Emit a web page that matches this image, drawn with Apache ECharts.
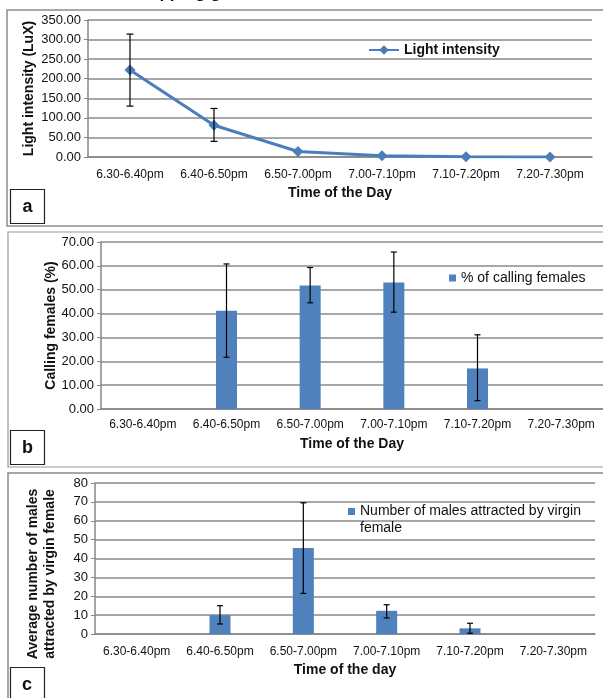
<!DOCTYPE html>
<html><head><meta charset="utf-8">
<script src="https://cdn.jsdelivr.net/npm/echarts@6/dist/echarts.min.js"></script>
<style>html,body{margin:0;padding:0;background:#fff;overflow:hidden}#chart{width:603px;height:698px}</style>
</head><body><div id="chart"></div>
<script>
// ---- data ----
const categories = ['6.30-6.40pm', '6.40-6.50pm', '6.50-7.00pm', '7.00-7.10pm', '7.10-7.20pm', '7.20-7.30pm'];

const lightIntensity = [222, 81, 14, 3, 0.5, 0.3];
const lightErrLow = [130, 40, null, null, null, null];
const lightErrHigh = [314, 124, null, null, null, null];

const callingFemales = [0, 41.2, 51.8, 53.0, 17.0, 0];
const callingErrLow = [null, 21.7, 44.5, 40.6, 3.5, null];
const callingErrHigh = [null, 60.8, 59.3, 65.8, 31.1, null];

const malesAttracted = [0, 10.0, 45.5, 12.3, 3.0, 0];
const malesErrLow = [null, 5.3, 21.5, 8.5, 0.4, null];
const malesErrHigh = [null, 15.0, 69.5, 15.5, 5.7, null];

const seriesNames = ['Light intensity', '% of calling females', 'Number of males attracted by virgin female'];
const axisNames = {
  x: ['Time of the Day', 'Time of the Day', 'Time of the day'],
  y: ['Light intensity (LuX)', 'Calling females (%)', 'Average number of males\nattracted by virgin female']
};
const yRanges = [[0, 350, 50], [0, 70, 10], [0, 80, 10]];
const panelLetters = ['a', 'b', 'c'];

// ---- styling ----
const FONT = '"Liberation Sans", Arial, sans-serif';
const BLUE = '#4a7ebb';
const BAR = '#4f81bd';
const GRID_LINE = '#8a8a8a';

const chart = echarts.init(document.getElementById('chart'), null, {renderer: 'canvas'});

const grids = [
  {left: 88, top: 20, width: 504, height: 137},
  {left: 101, top: 242, width: 504, height: 167},
  {left: 95, top: 483, width: 500, height: 151}
];

const xNameGap = [29, 28, 29];
const xLabelMargin = [12, 10, 12];
const yNameGap = [52, 43, 0];
const yDecimals = [2, 2, 0];

const xAxes = grids.map((g, i) => ({
  type: 'category', gridIndex: i, data: categories, boundaryGap: true,
  axisLine: {show: true, lineStyle: {color: '#868686', width: 1.5}},
  axisTick: {show: false},
  axisLabel: {color: '#111', fontSize: 12, fontFamily: FONT, margin: xLabelMargin[i], interval: 0},
  name: axisNames.x[i], nameLocation: 'middle', nameGap: xNameGap[i], nameMoveOverlap: false,
  nameTextStyle: {color: '#111', fontSize: 14, fontWeight: 'bold', fontFamily: FONT}
}));

const yAxes = grids.map((g, i) => ({
  type: 'value', gridIndex: i, min: yRanges[i][0], max: yRanges[i][1], interval: yRanges[i][2],
  axisLine: {show: true, lineStyle: {color: '#868686', width: 1.5}},
  axisTick: {show: true, length: 4, lineStyle: {color: '#868686'}},
  axisLabel: {color: '#111', fontSize: 13, fontFamily: FONT, margin: 7,
    formatter: v => v.toFixed(yDecimals[i])},
  splitLine: {show: true, lineStyle: {color: GRID_LINE, width: 1.5}},
  name: i < 2 ? axisNames.y[i] : '', nameLocation: 'middle', nameGap: yNameGap[i], nameMoveOverlap: false,
  nameTextStyle: {color: '#111', fontSize: 14, fontWeight: 'bold', fontFamily: FONT}
}));

function errorSeries(idx, low, high, capW) {
  const data = [];
  categories.forEach((c, i) => { if (low[i] != null && high[i] != null) data.push([i, low[i], high[i]]); });
  return {
    type: 'custom', xAxisIndex: idx, yAxisIndex: idx, z: 10, silent: true,
    encode: {x: 0, y: [1, 2]},
    data: data,
    renderItem: function (params, api) {
      const x = api.value(0);
      const lo = api.coord([x, api.value(1)]);
      const hi = api.coord([x, api.value(2)]);
      const w = capW / 2;
      const st = {stroke: '#000', lineWidth: 1.2};
      return {
        type: 'group', children: [
          {type: 'line', shape: {x1: lo[0], y1: lo[1], x2: hi[0], y2: hi[1]}, style: st},
          {type: 'line', shape: {x1: lo[0] - w, y1: lo[1], x2: lo[0] + w, y2: lo[1]}, style: st},
          {type: 'line', shape: {x1: hi[0] - w, y1: hi[1], x2: hi[0] + w, y2: hi[1]}, style: st}
        ]
      };
    }
  };
}

const series = [
  {
    name: seriesNames[0], type: 'line', xAxisIndex: 0, yAxisIndex: 0, data: lightIntensity,
    symbol: 'diamond', symbolSize: 11, z: 5,
    lineStyle: {color: BLUE, width: 3}, itemStyle: {color: BLUE}
  },
  errorSeries(0, lightErrLow, lightErrHigh, 7),
  {
    name: seriesNames[1], type: 'bar', xAxisIndex: 1, yAxisIndex: 1, data: callingFemales,
    barWidth: 21, itemStyle: {color: BAR}
  },
  errorSeries(1, callingErrLow, callingErrHigh, 6),
  {
    name: seriesNames[2], type: 'bar', xAxisIndex: 2, yAxisIndex: 2, data: malesAttracted,
    barWidth: 21, itemStyle: {color: BAR}
  },
  errorSeries(2, malesErrLow, malesErrHigh, 6)
];

const legends = [
  {data: [seriesNames[0]], left: 363, top: 38, itemWidth: 30, itemHeight: 12, itemGap: 0,
    textStyle: {color: '#111', fontSize: 14, fontWeight: 'bold', fontFamily: FONT}},
  {data: [{name: seriesNames[1], icon: 'rect'}], left: 444, top: 266, itemWidth: 7, itemHeight: 7,
    textStyle: {color: '#111', fontSize: 14, fontFamily: FONT}},
  {data: [{name: seriesNames[2], icon: 'rect'}], left: 343, top: 481, itemWidth: 7, itemHeight: 7,
    formatter: () => '\nNumber of males attracted by virgin\nfemale',
    textStyle: {color: '#111', fontSize: 14, fontFamily: FONT, lineHeight: 17}}
];

const graphics = [
  // partial cropped heading at the very top
  {type: 'text', left: 150, top: -15, silent: true,
    style: {text: 'l pping g', fill: '#111', font: 'bold 17px ' + FONT}},
  // panel borders
  {type: 'rect', shape: {x: 7, y: 10, width: 620, height: 216}, style: {fill: 'none', stroke: '#8a8a8a', lineWidth: 1.5}, silent: true},
  {type: 'rect', shape: {x: 8, y: 232, width: 620, height: 235}, style: {fill: 'none', stroke: '#9a9a9a', lineWidth: 1.2}, silent: true},
  {type: 'rect', shape: {x: 8, y: 473, width: 620, height: 240}, style: {fill: 'none', stroke: '#8a8a8a', lineWidth: 1.5}, silent: true},
  // letter boxes
  {type: 'rect', shape: {x: 10.5, y: 189.5, width: 34, height: 34}, style: {fill: '#fff', stroke: '#222', lineWidth: 1.2}, silent: true},
  {type: 'rect', shape: {x: 10.5, y: 430.5, width: 34, height: 34}, style: {fill: '#fff', stroke: '#222', lineWidth: 1.2}, silent: true},
  {type: 'rect', shape: {x: 10.5, y: 667.5, width: 34, height: 40}, style: {fill: '#fff', stroke: '#222', lineWidth: 1.2}, silent: true},
  {type: 'text', x: 27.5, y: 207, silent: true, style: {text: panelLetters[0], fill: '#111', font: 'bold 18px ' + FONT, align: 'center', verticalAlign: 'middle'}},
  {type: 'text', x: 27.5, y: 448, silent: true, style: {text: panelLetters[1], fill: '#111', font: 'bold 18px ' + FONT, align: 'center', verticalAlign: 'middle'}},
  {type: 'text', x: 27, y: 685, silent: true, style: {text: panelLetters[2], fill: '#111', font: 'bold 18px ' + FONT, align: 'center', verticalAlign: 'middle'}},
  // panel c y-axis name (two lines, offset from plot centre as in original)
  {type: 'text', x: 41.5, y: 574, rotation: Math.PI / 2, silent: true,
    style: {text: axisNames.y[2], fill: '#111', font: 'bold 14px ' + FONT, align: 'center', verticalAlign: 'middle', lineHeight: 17}}
];

chart.setOption({
  animation: false,
  backgroundColor: '#fff',
  textStyle: {fontFamily: FONT},
  grid: grids,
  xAxis: xAxes,
  yAxis: yAxes,
  series: series,
  legend: legends,
  graphic: graphics
});
</script>
</body></html>
